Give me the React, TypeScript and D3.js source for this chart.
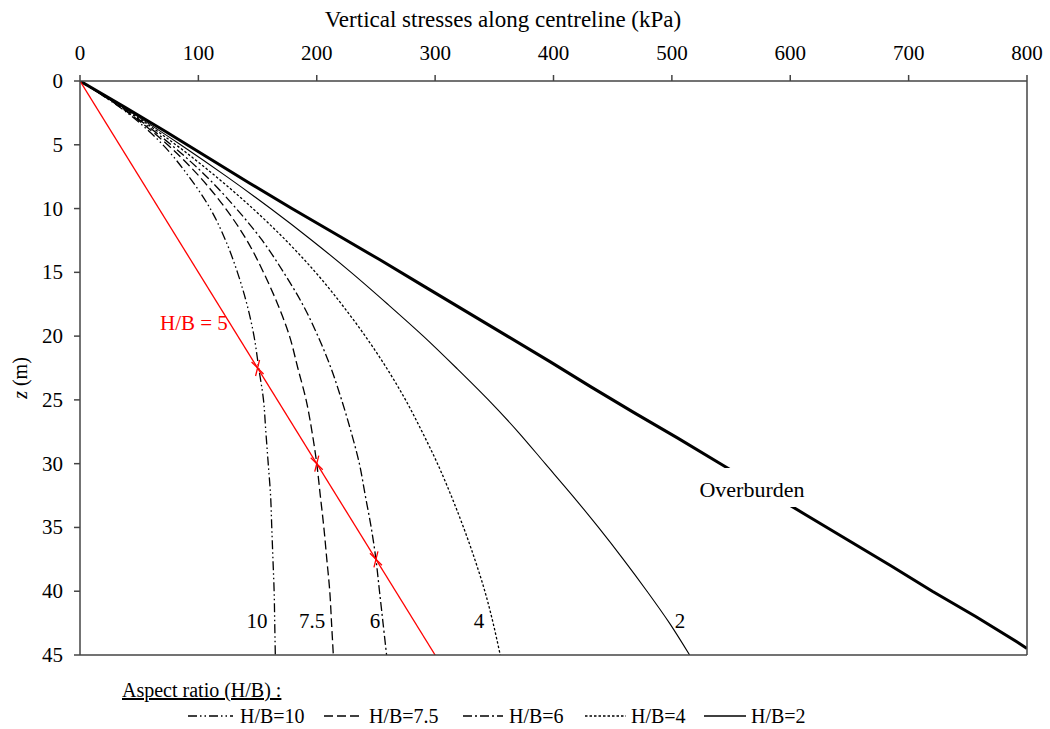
import React from "react";
import * as d3 from "d3";

const depths = [0, 2.5, 5, 7.5, 10, 12.5, 15, 17.5, 20, 22.5, 25, 27.5, 30, 32.5, 35, 37.5, 40, 42.5, 45];
const hb10 = [0, 40, 70, 92, 110, 123, 133, 141, 147, 151, 155, 157, 159, 161, 162, 163, 164, 164.5, 165];
const hb75 = [0, 41, 74, 101, 123, 141, 155, 167, 177, 184, 191, 196, 200, 203, 206, 208.5, 211, 212.5, 214];
const hb6 = [0, 42, 77, 107, 132, 154, 172, 188, 201, 212, 221, 229, 236, 241, 246, 250, 253, 256, 259];
const hb4 = [0, 43, 81, 115, 146, 174, 199, 221, 241, 259, 275, 289, 302, 313.5, 324, 333.5, 342, 349, 355];
const hb2 = [0, 44, 85, 124, 161, 196, 229, 260, 290, 318, 345, 370, 393, 416, 438, 459, 479, 498, 515];

const overDepths = [0, 2, 4, 6, 8, 10, 12, 14, 16, 18, 20, 22, 24, 26, 28, 30, 32, 34, 36, 38, 40, 42, 44, 44.5];
const overburden = [0, 37, 73, 108, 143, 179, 216, 253, 289, 325, 361, 397, 432, 468, 505, 541, 577, 613, 649, 685, 720, 757, 792, 800];

const redDepths = [0, 45];
const redStress = [0, 300];
const markerStress = [150, 200, 250];
const markerDepths = [22.5, 30, 37.5];

const xTicks = [0, 100, 200, 300, 400, 500, 600, 700, 800];
const yTicks = [0, 5, 10, 15, 20, 25, 30, 35, 40, 45];

const curveLabels = ["10", "7.5", "6", "4", "2"];
const legendLabels = ["H/B=10", "H/B=7.5", "H/B=6", "H/B=4", "H/B=2"];

const series = [
  { vals: hb10, dash: "9 3 1.5 3 1.5 3", w: 1.3 },
  { vals: hb75, dash: "9 4", w: 1.3 },
  { vals: hb6, dash: "9 3 2 3", w: 1.3 },
  { vals: hb4, dash: "2.5 2", w: 1.3 },
  { vals: hb2, dash: null, w: 1.1 },
];

const FONT = "'Liberation Serif', 'Times New Roman', serif";

export default function App() {
  const left = 80, right = 1027, top = 81, bottom = 655;
  const x = d3.scaleLinear().domain([0, 800]).range([left, right]);
  const y = d3.scaleLinear().domain([0, 45]).range([top, bottom]);

  const line = d3
    .line<[number, number]>()
    .x((d) => x(d[0]))
    .y((d) => y(d[1]))
    .curve(d3.curveCatmullRom.alpha(0.5));
  const straight = d3
    .line<[number, number]>()
    .x((d) => x(d[0]))
    .y((d) => y(d[1]));

  const pts = (vals: number[], zs: number[]) => vals.map((v, i) => [v, zs[i]] as [number, number]);

  const labelPos = [257, 312, 375, 479, 680];
  const legendLines = [
    [188, 233],
    [324, 362],
    [463, 503],
    [585, 626],
    [704, 746],
  ];
  const legendText = [240, 369, 509, 631, 751];

  return (
    <svg
      width={1050}
      height={729}
      style={{ position: "absolute", left: 0, top: 0, background: "#fff" }}
      fontFamily={FONT}
    >
      <defs>
        <clipPath id="plotclip">
          <rect x={left} y={top} width={right - left} height={bottom - top} />
        </clipPath>
      </defs>
      <rect x={0} y={0} width={1050} height={729} fill="#fff" />

      <g clipPath="url(#plotclip)">
        {series.map((s, i) => (
          <path
            key={i}
            d={line(pts(s.vals, depths)) || ""}
            fill="none"
            stroke="#000"
            strokeWidth={s.w}
            strokeDasharray={s.dash || undefined}
          />
        ))}
        <path
          d={straight(pts(overburden, overDepths)) || ""}
          fill="none"
          stroke="#000"
          strokeWidth={3}
        />
        <path
          d={straight(pts(redStress, redDepths)) || ""}
          fill="none"
          stroke="#ff0000"
          strokeWidth={1.3}
        />
        {markerStress.map((v, i) => {
          const cx = x(v), cy = y(markerDepths[i]);
          return (
            <g key={i} stroke="#ff0000" strokeWidth={1.3}>
              <line x1={cx - 6} y1={cy - 6} x2={cx + 6} y2={cy + 6} />
              <line x1={cx + 2} y1={cy - 8} x2={cx - 2} y2={cy + 8} />
            </g>
          );
        })}
      </g>

      {/* Overburden label with gap */}
      <rect x={700} y={468} width={106} height={39} fill="#fff" />
      <text x={752} y={497} fontSize={22} textAnchor="middle" fill="#000">
        Overburden
      </text>

      <text x={160} y={330} fontSize={21} fill="#ff0000">
        H/B = 5
      </text>

      {curveLabels.map((t, i) => (
        <text key={t} x={labelPos[i]} y={628} fontSize={21} textAnchor="middle" fill="#000">
          {t}
        </text>
      ))}

      {/* frame */}
      <g stroke="#444" strokeWidth={1.5} fill="none">
        <line x1={left} y1={top} x2={right} y2={top} />
        <line x1={left} y1={top} x2={left} y2={bottom} />
        <line x1={right} y1={top} x2={right} y2={bottom} />
        <line x1={left} y1={bottom} x2={right} y2={bottom} />
      </g>

      {/* top axis */}
      {xTicks.map((t) => (
        <g key={t}>
          <line x1={x(t)} y1={top} x2={x(t)} y2={top - 6} stroke="#444" strokeWidth={1.5} />
          <text x={x(t)} y={60} fontSize={21} textAnchor="middle" fill="#000">
            {t}
          </text>
        </g>
      ))}
      <text x={503} y={27} fontSize={23} textAnchor="middle" fill="#000">
        Vertical stresses along centreline (kPa)
      </text>

      {/* left axis */}
      {yTicks.map((t) => (
        <g key={t}>
          <line x1={left} y1={y(t)} x2={left - 6} y2={y(t)} stroke="#444" strokeWidth={1.5} />
          <text x={63} y={y(t) + 7} fontSize={21} textAnchor="end" fill="#000">
            {t}
          </text>
        </g>
      ))}
      <text
        transform={`translate(27, 378) rotate(-90)`}
        fontSize={20}
        textAnchor="middle"
        fill="#000"
      >
        <tspan fontStyle="italic">z</tspan> (m)
      </text>

      {/* legend */}
      <text x={122} y={697} fontSize={20} fill="#000" textDecoration="underline">
        Aspect ratio (H/B) :
      </text>
      {series.map((s, i) => (
        <g key={i}>
          <line
            x1={legendLines[i][0]}
            x2={legendLines[i][1]}
            y1={716}
            y2={716}
            stroke="#000"
            strokeWidth={1.3}
            strokeDasharray={s.dash || undefined}
          />
          <text x={legendText[i]} y={723} fontSize={20} fill="#000">
            {legendLabels[i]}
          </text>
        </g>
      ))}
    </svg>
  );
}
